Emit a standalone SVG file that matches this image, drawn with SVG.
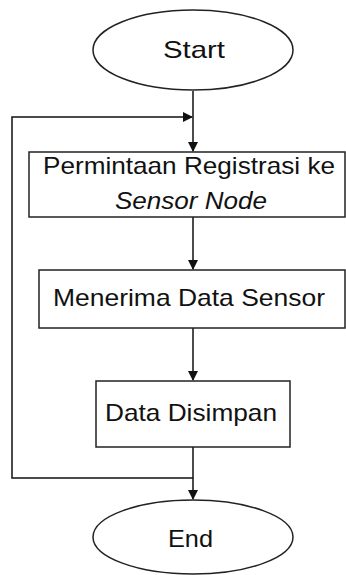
<svg xmlns="http://www.w3.org/2000/svg" width="346" height="575" viewBox="0 0 346 575">
<defs>
<style>
.shape{fill:#fff;stroke:#222;stroke-width:1.5}
.line{fill:none;stroke:#111;stroke-width:1.5}
.t{font-family:"Liberation Sans",Arial,sans-serif;font-size:24px;fill:#111;text-anchor:start}
</style>
<marker id="arr" markerWidth="10" markerHeight="10" refX="9" refY="5" orient="auto" markerUnits="userSpaceOnUse">
<path d="M0,0 L10,5 L0,10 Z" fill="#111"/>
</marker>
</defs>
<rect width="346" height="575" fill="#fff"/>
<g id="connectors">
<path class="line" d="M193,91 V151" marker-end="url(#arr)"/>
<path class="line" d="M193,478 H12 V117 H192" marker-end="url(#arr)"/>
<path class="line" d="M193,217 V269" marker-end="url(#arr)"/>
<path class="line" d="M193,328 V380" marker-end="url(#arr)"/>
<path class="line" d="M193,447 V499" marker-end="url(#arr)"/>
</g>
<g id="start">
<ellipse class="shape" cx="193" cy="50" rx="100" ry="40"/>
<text class="t" x="163" y="58" textLength="62" lengthAdjust="spacingAndGlyphs">Start</text>
</g>
<g id="permintaan">
<rect class="shape" x="29" y="152" width="316" height="65"/>
<text class="t" x="43" y="174" textLength="292" lengthAdjust="spacingAndGlyphs">Permintaan Registrasi ke</text>
<text class="t" x="115" y="209" textLength="152" lengthAdjust="spacingAndGlyphs" font-style="italic">Sensor Node</text>
</g>
<g id="menerima">
<rect class="shape" x="39" y="270" width="306" height="58"/>
<text class="t" x="53" y="306" textLength="272" lengthAdjust="spacingAndGlyphs">Menerima Data Sensor</text>
</g>
<g id="disimpan">
<rect class="shape" x="96" y="381" width="194" height="66"/>
<text class="t" x="105" y="421" textLength="172" lengthAdjust="spacingAndGlyphs">Data Disimpan</text>
</g>
<g id="end">
<ellipse class="shape" cx="193" cy="537" rx="100" ry="37"/>
<text class="t" x="168" y="547" textLength="45" lengthAdjust="spacingAndGlyphs">End</text>
</g>
</svg>
